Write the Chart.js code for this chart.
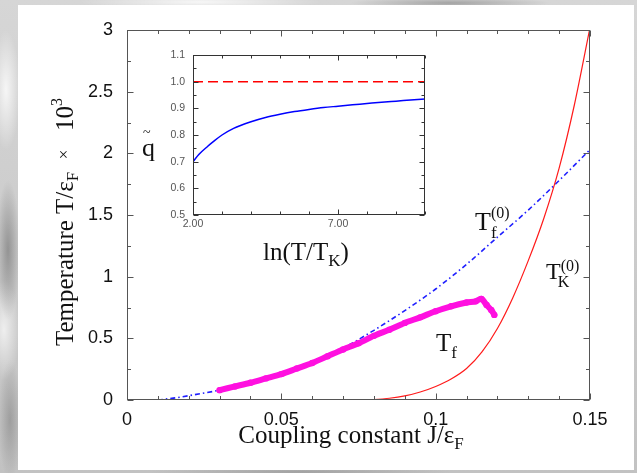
<!DOCTYPE html>
<html>
<head>
<meta charset="utf-8">
<script src="https://cdn.jsdelivr.net/npm/chart.js@4.4.0/dist/chart.umd.min.js"></script>
<style>
  html, body { margin: 0; padding: 0; }
  body {
    width: 637px; height: 473px; overflow: hidden; position: relative;
    background:
      radial-gradient(ellipse 14px 60px at 6px 90px, rgba(255,255,255,0.8), transparent),
      radial-gradient(ellipse 12px 70px at 8px 250px, rgba(110,110,110,0.6), transparent),
      radial-gradient(ellipse 16px 50px at 4px 330px, rgba(255,255,255,0.7), transparent),
      radial-gradient(ellipse 12px 60px at 10px 420px, rgba(120,120,120,0.5), transparent),
      radial-gradient(ellipse 120px 8px at 200px 2px, rgba(255,255,255,0.8), transparent),
      radial-gradient(ellipse 100px 6px at 450px 3px, rgba(130,130,130,0.6), transparent),
      radial-gradient(ellipse 150px 6px at 300px 472px, rgba(140,140,140,0.6), transparent),
      linear-gradient(180deg, #d6d6d6, #c2c2c2);
  }
  .panel { position: absolute; left: 18px; top: 5px; width: 616px; height: 465px; background: #fff; }
  #main { position: absolute; left: 0; top: 0; }
  #inset { position: absolute; left: 130px; top: 40px; }
</style>
</head>
<body>
<div class="panel"></div>
<canvas id="main" width="637" height="473"></canvas>
<canvas id="inset" width="320" height="240"></canvas>
<script>
// tick labels
const couplingTicks = [0, 0.05, 0.1, 0.15];
const tempTicks = [0, 0.5, 1, 1.5, 2, 2.5, 3];
const lnTicks = [2, 7];
const qTicks = [0.5, 0.6, 0.7, 0.8, 0.9, 1.0, 1.1];

// T_f^(0) : blue dash-dot
const tf0J = [0.010, 0.015, 0.020, 0.030, 0.040, 0.050, 0.060, 0.070, 0.080, 0.090, 0.100, 0.110, 0.120, 0.130, 0.140, 0.150];
const tf0T = [0.000, 0.015, 0.035, 0.080, 0.140, 0.210, 0.300, 0.420, 0.565, 0.725, 0.900, 1.100, 1.320, 1.540, 1.780, 2.030];

// T_K^(0) : red solid
const tk0J = [0.075, 0.080, 0.085, 0.090, 0.095, 0.100, 0.105, 0.110, 0.115, 0.120, 0.125, 0.130, 0.135, 0.140, 0.145, 0.150];
const tk0T = [0.000, 0.004, 0.014, 0.033, 0.065, 0.110, 0.170, 0.255, 0.390, 0.580, 0.830, 1.130, 1.470, 1.880, 2.400, 3.020];

// T_f : magenta
const tfJ = [0.030, 0.035, 0.040, 0.045, 0.050, 0.055, 0.060, 0.065, 0.070, 0.075, 0.080, 0.085, 0.090, 0.095, 0.100, 0.105, 0.110, 0.113, 0.1148, 0.1165, 0.1180, 0.1190];
const tfT = [0.080, 0.110, 0.140, 0.175, 0.210, 0.255, 0.300, 0.355, 0.410, 0.460, 0.520, 0.570, 0.625, 0.670, 0.720, 0.760, 0.790, 0.800, 0.820, 0.770, 0.730, 0.690];

// inset: q~ vs ln(T/T_K)
const lnT = [2, 2.2, 2.5, 2.7, 3, 3.4, 4, 4.5, 5, 5.5, 6, 6.5, 7, 7.5, 8, 8.5, 9, 9.5, 10];
const qTilde = [0.700, 0.727, 0.757, 0.775, 0.800, 0.825, 0.850, 0.866, 0.878, 0.888, 0.896, 0.903, 0.908, 0.913, 0.918, 0.923, 0.927, 0.931, 0.935];
const qRefX = [2, 10];
const qRefY = [1, 1];

const serif = '"Liberation Serif", "Times New Roman", serif';
const sans = '"Liberation Sans", Arial, sans-serif';

function pts(xs, ys) {
  return xs.map((x, i) => ({ x: x, y: ys[i] }));
}

// frame with inward ticks on all four sides
const frameTicks = {
  id: 'frameTicks',
  afterDraw(chart, args, o) {
    const ctx = chart.ctx;
    const a = chart.chartArea;
    const x = chart.scales.x, y = chart.scales.y;
    const L = Math.round(a.left) + 0.5, R = Math.round(a.right) - 0.5;
    const T = Math.round(a.top) + 0.5, B = Math.round(a.bottom) - 0.5;
    ctx.save();
    ctx.strokeStyle = o.color;
    ctx.lineWidth = 1;
    ctx.strokeRect(L, T, R - L, B - T);
    ctx.beginPath();
    const isMajor = (list, v) => list.some(t => Math.abs(t - v) < 1e-9);
    let n = Math.round((x.max - x.min) / o.xMinor);
    for (let i = 0; i <= n; i++) {
      const v = x.min + i * o.xMinor;
      const len = isMajor(o.xMajor, v) ? o.major : o.minor;
      const px = Math.round(x.getPixelForValue(v)) + 0.5;
      ctx.moveTo(px, B); ctx.lineTo(px, B - len);
      ctx.moveTo(px, T); ctx.lineTo(px, T + len);
    }
    n = Math.round((y.max - y.min) / o.yMinor);
    for (let i = 0; i <= n; i++) {
      const v = y.min + i * o.yMinor;
      const len = isMajor(o.yMajor, v) ? o.major : o.minor;
      const py = Math.round(y.getPixelForValue(v)) + 0.5;
      ctx.moveTo(L, py); ctx.lineTo(L + len, py);
      ctx.moveTo(R, py); ctx.lineTo(R - len, py);
    }
    ctx.stroke();
    ctx.restore();
  }
};

// text with sub/superscripts
function drawParts(ctx, parts, x, y, center) {
  const widths = parts.map(p => {
    ctx.font = p.size + 'px ' + (p.family || serif);
    return p.adv === false ? 0 : ctx.measureText(p.t).width;
  });
  let cx = center ? x - widths.reduce((s, w) => s + w, 0) / 2 : x;
  parts.forEach((p, i) => {
    ctx.font = p.size + 'px ' + (p.family || serif);
    ctx.fillText(p.t, cx + (p.dx || 0), y + (p.dy || 0));
    cx += widths[i];
  });
}

const richText = {
  id: 'richText',
  afterDraw(chart, args, o) {
    const ctx = chart.ctx;
    ctx.save();
    ctx.fillStyle = '#111';
    ctx.textBaseline = 'alphabetic';
    ctx.textAlign = 'left';
    o.items.forEach(it => {
      ctx.save();
      ctx.translate(it.x, it.y);
      if (it.rot) ctx.rotate(it.rot);
      drawParts(ctx, it.parts, 0, 0, it.center);
      ctx.restore();
    });
    ctx.restore();
  }
};

new Chart(document.getElementById('main'), {
  type: 'line',
  data: {
    datasets: [
      { data: pts(tk0J, tk0T), order: 2, borderColor: '#ff1a1a', borderWidth: 1.2, pointRadius: 0, cubicInterpolationMode: 'monotone' },
      { data: pts(tf0J, tf0T), order: 3, borderColor: '#1f1fff', borderWidth: 1.6, borderDash: [5, 3, 1.5, 3], pointRadius: 0, cubicInterpolationMode: 'monotone' },
      { data: pts(tfJ, tfT), order: 1, borderColor: '#ff10e0', backgroundColor: '#ff10e0', borderWidth: 6, pointRadius: 3.2, pointBorderWidth: 0, borderCapStyle: 'round', borderJoinStyle: 'round', tension: 0.3 }
    ]
  },
  plugins: [frameTicks, richText],
  options: {
    responsive: false,
    animation: false,
    devicePixelRatio: 1,
    layout: { padding: { left: 0, top: 30, right: 47, bottom: 0 } },
    plugins: {
      legend: { display: false },
      tooltip: { enabled: false },
      frameTicks: { color: '#555', xMinor: 0.01, xMajor: couplingTicks, yMinor: 0.25, yMajor: tempTicks, major: 6, minor: 3.5 },
      richText: {
        items: [
          { x: 73, y: 222, rot: -Math.PI / 2, center: true, parts: [
            { t: 'Temperature T/\u03b5', size: 25 }, { t: 'F', size: 17, dy: 5 },
            { t: '  ', size: 25 }, { t: '\u00d7', size: 17, dy: -4 }, { t: '   ', size: 25 },
            { t: '10', size: 25 }, { t: '3', size: 16, dy: -11 }] },
          { x: 351, y: 443, center: true, parts: [
            { t: 'Coupling constant J/\u03b5', size: 25 }, { t: 'F', size: 17, dy: 6 }] },
          { x: 475, y: 230, parts: [
            { t: 'T', size: 26 }, { t: 'f', size: 17, dy: 8, adv: false }, { t: '(0)', size: 16, dy: -12 }] },
          { x: 546, y: 279, parts: [
            { t: 'T', size: 24 }, { t: 'K', size: 16, dy: 8, dx: -3, adv: false }, { t: '(0)', size: 16, dy: -8 }] },
          { x: 436, y: 351, parts: [
            { t: 'T', size: 25 }, { t: 'f', size: 17, dy: 7 }] }
        ]
      }
    },
    scales: {
      x: {
        type: 'linear', min: 0, max: 0.15,
        afterFit: s => { s.height = 73; },
        afterBuildTicks: s => { s.ticks = couplingTicks.map(v => ({ value: v })); },
        grid: { display: false, drawTicks: false },
        border: { display: false },
        ticks: { padding: 9, color: '#111', maxRotation: 0, autoSkip: false, font: { family: sans, size: 18 }, callback: v => String(v) }
      },
      y: {
        type: 'linear', min: 0, max: 3,
        afterFit: s => { s.width = 127; },
        afterBuildTicks: s => { s.ticks = tempTicks.map(v => ({ value: v })); },
        grid: { display: false, drawTicks: false },
        border: { display: false },
        ticks: { padding: 14, color: '#111', autoSkip: false, font: { family: sans, size: 18 }, callback: v => String(v) }
      }
    }
  }
});

new Chart(document.getElementById('inset'), {
  type: 'line',
  data: {
    datasets: [
      { data: pts(qRefX, qRefY), borderColor: '#ff0000', borderWidth: 1.5, borderDash: [10, 5], pointRadius: 0 },
      { data: pts(lnT, qTilde), borderColor: '#0000ff', borderWidth: 1.5, pointRadius: 0, cubicInterpolationMode: 'monotone' }
    ]
  },
  plugins: [frameTicks, richText],
  options: {
    responsive: false,
    animation: false,
    devicePixelRatio: 1,
    layout: { padding: { left: 0, top: 15, right: 25, bottom: 0 } },
    plugins: {
      legend: { display: false },
      tooltip: { enabled: false },
      frameTicks: { color: '#333', xMinor: 1, xMajor: lnTicks, yMinor: 0.05, yMajor: qTicks, major: 5, minor: 3 },
      richText: {
        items: [
          { x: 12, y: 116, parts: [{ t: 'q', size: 26 }] },
          { x: 13, y: 97, parts: [{ t: '~', size: 14 }] },
          { x: 133, y: 220, parts: [
            { t: 'ln(T/T', size: 25 }, { t: 'K', size: 17, dy: 6 }, { t: ')', size: 25 }] }
        ]
      }
    },
    scales: {
      x: {
        type: 'linear', min: 2, max: 10,
        afterFit: s => { s.height = 65; },
        afterBuildTicks: s => { s.ticks = lnTicks.map(v => ({ value: v })); },
        grid: { display: false, drawTicks: false },
        border: { display: false },
        ticks: { padding: 3, color: '#555', maxRotation: 0, autoSkip: false, font: { family: sans, size: 10.5 }, callback: v => v.toFixed(2) }
      },
      y: {
        type: 'linear', min: 0.5, max: 1.1,
        afterFit: s => { s.width = 63; },
        afterBuildTicks: s => { s.ticks = qTicks.map(v => ({ value: v })); },
        grid: { display: false, drawTicks: false },
        border: { display: false },
        ticks: { padding: 8, color: '#555', autoSkip: false, font: { family: sans, size: 10.5 }, callback: v => v.toFixed(1) }
      }
    }
  }
});
</script>
</body>
</html>
